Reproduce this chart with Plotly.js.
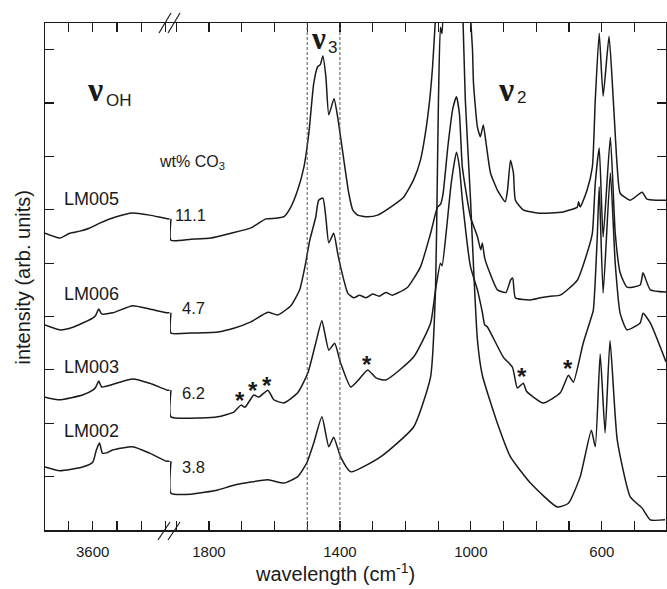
<!DOCTYPE html>
<html><head><meta charset="utf-8">
<script src="https://cdn.plot.ly/plotly-3.0.1.min.js"></script>
<style>html,body{margin:0;padding:0;background:#fff}#plot{width:667px;height:589px}</style>
</head><body><div id="plot"></div>
<script>
// ---------- data (wavenumber in cm-1, intensity in arb. units) ----------
const sampleNames = ["LM005", "LM006", "LM003", "LM002"];
const co3Labels = ["11.1", "4.7", "6.2", "3.8"];

// high-wavenumber (OH stretching) segment
const oh_LM005_x = [3797, 3736, 3695, 3653, 3612, 3571, 3509, 3435, 3365, 3290, 3283];
const oh_LM005_y = [5.56, 5.47, 5.56, 5.60, 5.66, 5.75, 5.86, 5.94, 5.90, 5.83, 5.83];
const oh_LM006_x = [3797, 3736, 3682, 3600, 3588, 3575, 3563, 3518, 3435, 3365, 3292, 3283];
const oh_LM006_y = [3.84, 3.75, 3.80, 3.97, 4.02, 4.14, 4.05, 4.07, 4.20, 4.14, 4.07, 4.07];
const oh_LM003_x = [3797, 3736, 3642, 3600, 3587, 3575, 3563, 3540, 3435, 3365, 3292, 3283];
const oh_LM003_y = [2.49, 2.44, 2.53, 2.62, 2.68, 2.79, 2.68, 2.70, 2.83, 2.75, 2.62, 2.62];
const oh_LM002_x = [3797, 3736, 3642, 3600, 3585, 3572, 3560, 3540, 3518, 3435, 3365, 3296, 3283];
const oh_LM002_y = [1.18, 1.11, 1.18, 1.27, 1.50, 1.63, 1.44, 1.45, 1.50, 1.56, 1.44, 1.29, 1.29];

// fingerprint segment
const fp_LM005_x = [1916, 1855, 1794, 1733, 1672, 1626, 1596, 1571, 1550, 1529, 1510, 1495, 1480, 1468, 1460, 1452, 1443, 1434, 1418, 1407, 1388, 1373, 1361, 1346, 1315, 1285, 1245, 1205, 1175, 1154, 1139, 1126, 1117, 1110, 1100, 1090, 1060, 1040, 1020, 1005, 995, 992, 980, 971, 962, 955, 940, 919, 895, 888, 879, 870, 864, 840, 797, 757, 718, 675, 671, 666, 645, 629, 620, 608, 596, 578, 565, 553, 544, 513, 477, 462, 431, 404];
const fp_LM005_y = [5.43, 5.45, 5.47, 5.56, 5.66, 5.83, 5.84, 5.87, 6.05, 6.37, 6.80, 7.43, 8.37, 8.68, 8.72, 8.88, 8.50, 7.78, 8.08, 7.74, 6.93, 6.31, 6.00, 5.90, 5.87, 5.90, 6.05, 6.24, 6.56, 6.93, 7.43, 8.05, 8.68, 9.40, 10.5, 11.5, 12.0, 13.0, 11.5, 10.0, 9.00, 8.37, 7.55, 7.37, 7.59, 7.31, 6.69, 6.37, 6.15, 6.37, 6.93, 6.69, 6.18, 6.00, 5.94, 5.94, 5.96, 6.05, 6.15, 6.05, 6.37, 6.80, 8.06, 9.31, 8.13, 9.25, 8.06, 6.80, 6.31, 6.18, 6.33, 6.20, 6.18, 6.18];
const fp_LM006_x = [1916, 1855, 1773, 1724, 1672, 1620, 1590, 1550, 1523, 1507, 1492, 1474, 1465, 1452, 1443, 1434, 1419, 1407, 1398, 1376, 1358, 1340, 1320, 1300, 1280, 1260, 1240, 1224, 1193, 1154, 1123, 1102, 1093, 1085, 1070, 1055, 1044, 1035, 1026, 1001, 980, 970, 965, 958, 949, 919, 893, 879, 872, 864, 818, 788, 757, 727, 675, 645, 629, 620, 608, 596, 574, 559, 544, 523, 483, 474, 452, 404];
const fp_LM006_y = [3.69, 3.69, 3.71, 3.78, 3.90, 4.08, 4.03, 4.20, 4.50, 4.93, 5.43, 5.86, 6.18, 6.22, 5.86, 5.38, 5.56, 5.19, 4.93, 4.44, 4.35, 4.40, 4.35, 4.42, 4.38, 4.45, 4.40, 4.44, 4.55, 4.93, 5.56, 6.05, 6.10, 6.30, 7.20, 7.90, 8.12, 7.80, 6.80, 5.86, 5.50, 5.25, 5.38, 5.10, 4.93, 4.50, 4.45, 4.68, 4.72, 4.35, 4.31, 4.35, 4.38, 4.40, 4.68, 5.19, 5.56, 6.50, 7.16, 5.49, 7.36, 5.56, 4.82, 4.55, 4.59, 4.82, 4.50, 4.46];
const fp_LM003_x = [1916, 1824, 1773, 1724, 1702, 1690, 1663, 1648, 1620, 1602, 1571, 1529, 1498, 1474, 1455, 1434, 1416, 1398, 1367, 1345, 1315, 1290, 1260, 1175, 1123, 1108, 1093, 1088, 1075, 1060, 1044, 1035, 1026, 1001, 980, 965, 958, 949, 901, 873, 858, 840, 830, 779, 727, 702, 687, 657, 635, 626, 614, 608, 596, 574, 559, 544, 523, 483, 474, 452, 404];
const fp_LM003_y = [2.12, 2.10, 2.12, 2.21, 2.34, 2.30, 2.53, 2.49, 2.62, 2.44, 2.38, 2.57, 2.94, 3.50, 3.92, 3.37, 3.50, 3.13, 2.68, 2.80, 3.00, 2.85, 2.81, 3.24, 3.88, 4.50, 5.00, 4.95, 5.60, 6.50, 7.08, 6.80, 6.18, 4.93, 4.50, 4.08, 3.85, 3.80, 3.24, 3.05, 2.66, 2.75, 2.60, 2.38, 2.57, 2.90, 2.77, 3.50, 3.93, 4.12, 5.49, 6.43, 4.44, 6.69, 4.99, 4.06, 3.75, 3.88, 4.06, 3.88, 3.15];
const fp_LM002_x = [1916, 1855, 1773, 1724, 1620, 1571, 1529, 1501, 1480, 1455, 1434, 1419, 1398, 1367, 1276, 1175, 1123, 1108, 1102, 1099, 1093, 1088, 1080, 1044, 1026, 1017, 1001, 990, 980, 965, 919, 879, 818, 736, 702, 666, 632, 620, 605, 590, 575, 553, 513, 477, 452, 407];
const fp_LM002_y = [0.69, 0.67, 0.75, 0.84, 0.94, 0.88, 1.00, 1.26, 1.63, 2.12, 1.56, 1.74, 1.37, 1.09, 1.37, 1.93, 2.87, 4.50, 6.80, 8.06, 9.42, 9.30, 10.5, 13.0, 10.0, 8.06, 6.18, 4.68, 3.56, 2.90, 2.00, 1.37, 0.88, 0.43, 0.50, 1.00, 1.87, 1.56, 3.30, 1.82, 3.55, 1.69, 0.62, 0.41, 0.19, 0.19];

const ohX = [oh_LM005_x, oh_LM006_x, oh_LM003_x, oh_LM002_x];
const ohY = [oh_LM005_y, oh_LM006_y, oh_LM003_y, oh_LM002_y];
const fpX = [fp_LM005_x, fp_LM006_x, fp_LM003_x, fp_LM002_x];
const fpY = [fp_LM005_y, fp_LM006_y, fp_LM003_y, fp_LM002_y];

const ohRange = [3797, 3281];
const fpRange = [1919, 404];
const markerLines = [1500, 1400];   // dashed guide lines (cm-1)

// ---------- layout helpers ----------
const W = 667, H = 589, ML = 45, MR = 1, MT = 23, MB = 59;
const PW = W - ML - MR, PH = H - MT - MB;
const split = 125 / PW;
const px = x => (x - ML) / PW;
const py = y => (H - MB - y) / PH;
const INK = '#1a1a1a';
const SANS = 'Liberation Sans, Arial, sans-serif';
const SERIF = 'Liberation Serif, Times New Roman, serif';

const traces = [];
for (let i = 0; i < 4; i++) {
  traces.push({x: ohX[i], y: ohY[i], xaxis: 'x', yaxis: 'y', mode: 'lines',
    line: {color: INK, width: 1.5, shape: 'spline', smoothing: 0.5}, hoverinfo: 'skip', showlegend: false});
  const ohLast = ohY[i][ohY[i].length - 1];
  traces.push({x: [fpX[i][0]].concat(fpX[i]), y: [ohLast].concat(fpY[i]), xaxis: 'x2', yaxis: 'y2', mode: 'lines',
    line: {color: INK, width: 1.5, shape: 'spline', smoothing: 0.5}, hoverinfo: 'skip', showlegend: false});
}

const axCommon = {showline: true, linecolor: INK, linewidth: 1.5, ticks: 'inside', tickcolor: INK,
  tickwidth: 1.2, ticklen: 9, showgrid: false, zeroline: false, ticklabelstandoff: 7,
  tickfont: {family: SANS, size: 15, color: INK}};

function ann(text, x, y, opt) {
  return Object.assign({text: text, x: px(x), y: py(y), xref: 'paper', yref: 'paper',
    showarrow: false, xanchor: 'left', yanchor: 'middle',
    font: {family: SANS, size: 16, color: INK}}, opt || {});
}

const labelY = [199, 294, 367, 431];
const numY = [214.5, 307.5, 392.5, 466.5];
const numX = [173, 180, 180, 180];
const annotations = [];
for (let i = 0; i < 4; i++) {
  annotations.push(ann(sampleNames[i], 62, labelY[i], {font: {family: SANS, size: 18, color: INK}}));
  annotations.push(ann(co3Labels[i], numX[i], numY[i], {font: {family: SANS, size: 16.5, color: INK}}));
}
annotations.push(ann('wt% CO<sub>3</sub>', 157, 163, {font: {family: SANS, size: 16, color: INK}}));
annotations.push(ann('<b>ν</b>', 95, 89, {xanchor: 'center', font: {family: SERIF, size: 34, color: INK}}));
annotations.push(ann('OH', 104, 100, {font: {family: SANS, size: 17, color: INK}}));
annotations.push(ann('<b>ν</b>', 318, 38, {xanchor: 'center', font: {family: SERIF, size: 31, color: INK}}));
annotations.push(ann('3', 326, 47, {font: {family: SANS, size: 17, color: INK}}));
annotations.push(ann('<b>ν</b>', 506, 89, {xanchor: 'center', font: {family: SERIF, size: 34, color: INK}}));
annotations.push(ann('2', 515, 98, {font: {family: SANS, size: 17, color: INK}}));
const stars = [[240, 399], [253, 390], [267, 384], [367, 363], [522, 375], [568, 368]];
stars.forEach(s => annotations.push(ann('<b>*</b>', s[0], s[1] + 1, {xanchor: 'center', font: {family: SANS, size: 24, color: INK}})));
annotations.push(ann('intensity (arb. units)', 22, 277.5, {xanchor: 'center', textangle: -90, font: {family: SANS, size: 20, color: INK}}));
annotations.push(ann('wavelength (cm<sup>-1</sup>)', 335, 572, {xanchor: 'center', font: {family: SANS, size: 20, color: INK}}));

const shapes = markerLines.map(v => ({type: 'line', xref: 'x2', yref: 'paper', x0: v, x1: v, y0: 0, y1: 1,
  line: {color: '#555', width: 1, dash: '3px,2px'}}));
// axis-break marks
[[159, 33, 171, 13], [168, 33, 180, 13], [158, 540, 170, 522], [168, 540, 180, 522]].forEach(b =>
  shapes.push({type: 'line', xref: 'paper', yref: 'paper', x0: px(b[0]), y0: py(b[1]), x1: px(b[2]), y1: py(b[3]),
    line: {color: INK, width: 1.2}}));

const layout = {
  width: W, height: H, margin: {l: ML, r: MR, t: MT, b: MB, pad: 0},
  paper_bgcolor: '#fff', plot_bgcolor: '#fff', showlegend: false,
  xaxis: Object.assign({}, axCommon, {domain: [0, split], range: ohRange, anchor: 'y', mirror: 'ticks',
    tick0: 3600, dtick: 1000, minor: {ticks: 'inside', ticklen: 9, tickcolor: INK, tickwidth: 1.2, tick0: 0, dtick: 100}}),
  xaxis2: Object.assign({}, axCommon, {domain: [split, 1], range: fpRange, anchor: 'y2', mirror: 'ticks',
    tick0: 200, dtick: 400, minor: {ticks: 'inside', ticklen: 9, tickcolor: INK, tickwidth: 1.2, tick0: 0, dtick: 100}}),
  yaxis: Object.assign({}, axCommon, {range: [0, 9.5], anchor: 'x', dtick: 1, showticklabels: false}),
  yaxis2: Object.assign({}, axCommon, {range: [0, 9.5], anchor: 'x2', side: 'right', dtick: 1, showticklabels: false}),
  annotations: annotations, shapes: shapes
};
Plotly.newPlot('plot', traces, layout, {staticPlot: true, displayModeBar: false});
</script></body></html>
